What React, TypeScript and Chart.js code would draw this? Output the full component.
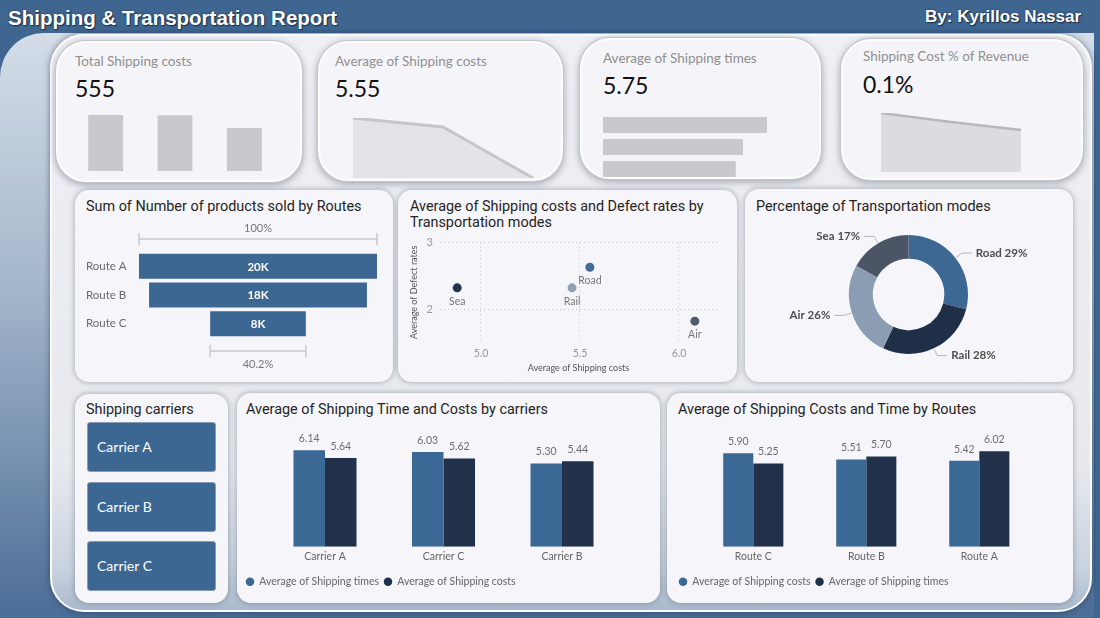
import React, { useEffect, useRef } from "react";
import { Chart, registerables } from "chart.js";

Chart.register(...registerables);

const UI_FONT = "Lato, 'Open Sans', sans-serif";
const TITLE_FONT = "Roboto, 'Noto Sans', sans-serif";
const HEAD_FONT = "'Liberation Sans', Arial, sans-serif";
const TITLE_SIZE = 14.4;

Chart.defaults.font.family = UI_FONT;
Chart.defaults.color = "#666";

// ---- KPI sparklines ----
const kpiCarriers = ["Carrier A", "Carrier B", "Carrier C"];
const kpiTotalCosts = [201, 200, 154];
const kpiAvgCosts = [5.64, 5.61, 5.44];
const kpiAvgTimes = [6.15, 5.25, 4.98];
const kpiCostShare = [0.118, 0.1, 0.084];

// ---- Products sold by route (funnel) ----
const funnelRoutes = ["Route A", "Route B", "Route C"];
const productsSold = [20100, 18400, 8080];

// ---- Shipping cost vs defect rate per transportation mode ----
const scatterModes = ["Sea", "Rail", "Road", "Air"];
const scatterCosts = [4.88, 5.46, 5.55, 6.08];
const scatterDefects = [2.32, 2.32, 2.63, 1.82];
const scatterColors = ["#1f3450", "#8fa1b6", "#436d97", "#505c6c"];

// ---- Transportation mode share ----
const shareModes = ["Road", "Rail", "Air", "Sea"];
const shareValues = [29, 28, 26, 17];
const shareColors = ["#3d6894", "#1f2f47", "#8b9db2", "#4c5566"];

// ---- Carriers ----
const slicerCarriers = ["Carrier A", "Carrier B", "Carrier C"];
const carrierLabels = ["Carrier A", "Carrier C", "Carrier B"];
const carrierTimes = [6.14, 6.03, 5.3];
const carrierCosts = [5.64, 5.62, 5.44];

// ---- Routes ----
const routeLabels = ["Route C", "Route B", "Route A"];
const routeCosts = [5.9, 5.51, 5.42];
const routeTimes = [5.25, 5.7, 6.02];

const BLUE = "#3b6894";
const NAVY = "#22314a";

const quiet = { legend: { display: false }, tooltip: { enabled: false } };

function ChartCanvas({ x, y, w, h, config }: { x: number; y: number; w: number; h: number; config: () => any }) {
  const ref = useRef<HTMLCanvasElement>(null);
  useEffect(() => {
    const chart = new Chart(ref.current as HTMLCanvasElement, config());
    return () => chart.destroy();
  }, []);
  return (
    <canvas
      ref={ref}
      width={w}
      height={h}
      style={{ position: "absolute", left: x, top: y, width: w, height: h }}
    />
  );
}

function Txt({ x, y, size, color, weight = 400, family = UI_FONT, align = "left", shadow, children }: any) {
  const lh = Math.round(size * 1.3);
  const style: React.CSSProperties = {
    position: "absolute",
    top: y - lh / 2,
    lineHeight: `${lh}px`,
    fontSize: size,
    color,
    fontWeight: weight,
    fontFamily: family,
    whiteSpace: "nowrap",
    textShadow: shadow,
  };
  if (align === "right") style.right = 1100 - x;
  else style.left = x;
  return <div style={style}>{children}</div>;
}

function Card({ x, y, w, h, kpi = false }: { x: number; y: number; w: number; h: number; kpi?: boolean }) {
  const style: React.CSSProperties = kpi
    ? {
        position: "absolute",
        left: x,
        top: y,
        width: w,
        height: h,
        boxSizing: "border-box",
        borderRadius: 30,
        background: "#f5f5f9",
        border: "2px solid #fdfdff",
        boxShadow: "0 0 0 1px #c4c4cc, 0 2px 7px 1px rgba(60,60,80,0.4)",
      }
    : {
        position: "absolute",
        left: x,
        top: y,
        width: w,
        height: h,
        boxSizing: "border-box",
        borderRadius: 14,
        background: "#f6f6fa",
        boxShadow: "0 0 5px 1px rgba(70,75,95,0.35)",
      };
  return <div style={style} />;
}

// ---------- chart configs ----------

const kpiBarsConfig = () => ({
  type: "bar",
  data: {
    labels: kpiCarriers,
    datasets: [{ data: kpiTotalCosts, backgroundColor: "#c9c8cc", categoryPercentage: 0.504, barPercentage: 1 }],
  },
  options: {
    responsive: false,
    animation: false,
    plugins: quiet,
    scales: { x: { display: false }, y: { display: false, min: 0, max: Math.max(...kpiTotalCosts) } },
  },
});

const kpiAreaConfig = (values: number[], line: string, fillColor: string, width: number, fromZero: boolean) => () => ({
  type: "line",
  data: {
    labels: kpiCarriers,
    datasets: [
      {
        data: values,
        borderColor: line,
        borderWidth: width,
        backgroundColor: fillColor,
        fill: "start",
        pointRadius: 0,
        tension: 0,
      },
    ],
  },
  options: {
    responsive: false,
    animation: false,
    plugins: quiet,
    layout: { padding: { left: 1, right: 1, top: 2, bottom: 1 } },
    scales: {
      x: { display: false },
      y: { display: false, min: fromZero ? 0 : Math.min(...values), max: Math.max(...values) },
    },
  },
});

const kpiHBarsConfig = () => ({
  type: "bar",
  data: {
    labels: kpiCarriers,
    datasets: [{ data: kpiAvgTimes, backgroundColor: "#c9c8cc", categoryPercentage: 0.727, barPercentage: 1 }],
  },
  options: {
    indexAxis: "y",
    responsive: false,
    animation: false,
    plugins: quiet,
    scales: { x: { display: false, min: 0, max: Math.max(...kpiAvgTimes) }, y: { display: false } },
  },
});

const funnelPlugin = {
  id: "funnelMarks",
  afterDatasetsDraw(chart: any) {
    const { ctx, chartArea, scales } = chart;
    const meta = chart.getDatasetMeta(0);
    ctx.save();
    ctx.textAlign = "center";
    ctx.textBaseline = "middle";
    ctx.font = `bold 11.5px ${UI_FONT}`;
    ctx.fillStyle = "#ffffff";
    meta.data.forEach((bar: any, i: number) => {
      ctx.fillText(`${Math.round(productsSold[i] / 1000)}K`, (bar.x + bar.base) / 2, bar.y + 0.5);
    });
    const first = productsSold[0];
    const last = productsSold[productsSold.length - 1];
    const bracket = (half: number, y: number) => {
      const x1 = scales.x.getPixelForValue(-half);
      const x2 = scales.x.getPixelForValue(half);
      ctx.strokeStyle = "#c9c9cc";
      ctx.lineWidth = 1.5;
      ctx.beginPath();
      ctx.moveTo(x1, y);
      ctx.lineTo(x2, y);
      ctx.moveTo(x1, y - 6);
      ctx.lineTo(x1, y + 6);
      ctx.moveTo(x2, y - 6);
      ctx.lineTo(x2, y + 6);
      ctx.stroke();
    };
    bracket(first / 2, chartArea.top - 13);
    bracket(last / 2, chartArea.bottom + 13);
    const cx = scales.x.getPixelForValue(0);
    ctx.font = `11px ${UI_FONT}`;
    ctx.fillStyle = "#777";
    ctx.fillText("100%", cx, chartArea.top - 24);
    ctx.fillText(`${((last / first) * 100).toFixed(1)}%`, cx, chartArea.bottom + 26);
    ctx.restore();
  },
};

const funnelConfig = () => ({
  type: "bar",
  data: {
    labels: funnelRoutes,
    datasets: [
      {
        data: productsSold.map((v) => [-v / 2, v / 2]),
        backgroundColor: "#3d6793",
        categoryPercentage: 0.872,
        barPercentage: 1,
      },
    ],
  },
  options: {
    indexAxis: "y",
    responsive: false,
    animation: false,
    plugins: quiet,
    layout: { padding: { top: 34, bottom: 34, right: 8, left: 0 } },
    scales: {
      x: { display: false, min: -Math.max(...productsSold) / 2, max: Math.max(...productsSold) / 2 },
      y: {
        grid: { display: false, drawTicks: false },
        border: { display: false },
        ticks: { color: "#6a6a6a", font: { size: 11.5 }, crossAlign: "far", padding: 0 },
        afterFit: (s: any) => {
          s.width = 53;
        },
      },
    },
  },
  plugins: [funnelPlugin],
});

const scatterNamesPlugin = {
  id: "scatterNames",
  afterDatasetsDraw(chart: any) {
    const { ctx } = chart;
    ctx.save();
    ctx.font = `10.5px ${UI_FONT}`;
    ctx.fillStyle = "#777";
    ctx.textAlign = "center";
    ctx.textBaseline = "middle";
    chart.getDatasetMeta(0).data.forEach((pt: any, i: number) => {
      ctx.fillText(scatterModes[i], pt.x, pt.y + 13.5);
    });
    ctx.restore();
  },
};

const scatterConfig = () => ({
  type: "scatter",
  data: {
    datasets: [
      {
        data: scatterModes.map((_, i) => ({ x: scatterCosts[i], y: scatterDefects[i] })),
        pointBackgroundColor: scatterColors,
        pointBorderWidth: 0,
        pointRadius: 4.5,
      },
    ],
  },
  options: {
    responsive: false,
    animation: false,
    plugins: quiet,
    layout: { padding: { top: 6, right: 8 } },
    scales: {
      x: {
        min: 4.793,
        max: 6.192,
        ticks: {
          stepSize: 0.5,
          includeBounds: false,
          callback: (v: any) => Number(v).toFixed(1),
          color: "#999",
          font: { size: 10.5 },
          padding: 5,
        },
        grid: { color: "#c4c4c8", drawTicks: false },
        border: { display: false, dash: [1, 3] },
        title: {
          display: true,
          text: "Average of Shipping costs",
          color: "#555",
          font: { size: 9 },
          padding: { top: 0, bottom: 2 },
        },
        afterFit: (s: any) => {
          s.height = 33;
        },
      },
      y: {
        min: 1.507,
        max: 3,
        ticks: { stepSize: 1, includeBounds: false, color: "#999", font: { size: 11 }, padding: 7 },
        grid: { color: "#c4c4c8", drawTicks: false },
        border: { display: false, dash: [1, 3] },
        title: {
          display: true,
          text: "Average of Defect rates",
          color: "#555",
          font: { size: 9 },
          padding: { top: 4, bottom: 0 },
        },
        afterFit: (s: any) => {
          s.width = 35;
        },
      },
    },
  },
  plugins: [scatterNamesPlugin],
});

const donutLabelsPlugin = {
  id: "donutLabels",
  afterDatasetsDraw(chart: any) {
    const { ctx } = chart;
    const total = shareValues.reduce((a, b) => a + b, 0);
    ctx.save();
    ctx.font = `bold 11.5px ${UI_FONT}`;
    ctx.textBaseline = "middle";
    chart.getDatasetMeta(0).data.forEach((arc: any, i: number) => {
      const { x, y, startAngle, endAngle, outerRadius } = arc.getProps(
        ["x", "y", "startAngle", "endAngle", "outerRadius"],
        true
      );
      const mid = (startAngle + endAngle) / 2;
      const c = Math.cos(mid);
      const s = Math.sin(mid);
      const px = x + c * (outerRadius + 1);
      const py = y + s * (outerRadius + 1);
      const ex = x + c * (outerRadius + 8);
      const ey = y + s * (outerRadius + 8);
      const right = c >= 0;
      const hx = ex + (right ? 10 : -10);
      ctx.strokeStyle = "#b4b4b8";
      ctx.lineWidth = 1;
      ctx.beginPath();
      ctx.moveTo(px, py);
      ctx.lineTo(ex, ey);
      ctx.lineTo(hx, ey);
      ctx.stroke();
      ctx.fillStyle = "#4e4e4e";
      ctx.textAlign = right ? "left" : "right";
      ctx.fillText(`${shareModes[i]} ${Math.round((shareValues[i] / total) * 100)}%`, hx + (right ? 4 : -4), ey);
    });
    ctx.restore();
  },
};

const donutConfig = () => ({
  type: "doughnut",
  data: { labels: shareModes, datasets: [{ data: shareValues, backgroundColor: shareColors, borderWidth: 0 }] },
  options: {
    responsive: false,
    animation: false,
    cutout: "60%",
    plugins: quiet,
    layout: { padding: { left: 94, right: 94, top: 9, bottom: 20 } },
  },
  plugins: [donutLabelsPlugin],
});

const barValuesPlugin = {
  id: "barValues",
  afterDatasetsDraw(chart: any) {
    const { ctx } = chart;
    ctx.save();
    ctx.font = `10.5px ${UI_FONT}`;
    ctx.fillStyle = "#6e6e6e";
    ctx.textAlign = "center";
    ctx.textBaseline = "middle";
    chart.data.datasets.forEach((ds: any, di: number) => {
      chart.getDatasetMeta(di).data.forEach((bar: any, i: number) => {
        ctx.fillText(Number(ds.data[i]).toFixed(2), bar.x, bar.y - 11.5);
      });
    });
    ctx.restore();
  },
};

const groupedBarsConfig = (
  labels: string[],
  series: { label: string; data: number[]; color: string }[],
  axisWidth: number,
  padRight: number
) => () => ({
  type: "bar",
  data: {
    labels,
    datasets: series.map((s) => ({
      label: s.label,
      data: s.data,
      backgroundColor: s.color,
      borderWidth: 0,
      categoryPercentage: 0.532,
      barPercentage: 1,
    })),
  },
  options: {
    responsive: false,
    animation: false,
    layout: { padding: { right: padRight } },
    plugins: {
      tooltip: { enabled: false },
      legend: {
        display: true,
        position: "bottom",
        align: "start",
        labels: {
          usePointStyle: true,
          pointStyle: "circle",
          boxWidth: 8,
          boxHeight: 6,
          padding: 5,
          color: "#666",
          font: { size: 10.5 },
        },
      },
    },
    scales: {
      x: {
        grid: { display: false, drawTicks: false },
        border: { display: false },
        ticks: { color: "#666", font: { size: 10.5 }, padding: 4 },
        afterFit: (s: any) => {
          s.height = 24.8;
        },
      },
      y: {
        min: 0,
        max: 8,
        grid: { display: false, drawTicks: false },
        border: { display: false },
        ticks: { display: false },
        afterFit: (s: any) => {
          s.width = axisWidth;
        },
      },
    },
  },
  plugins: [barValuesPlugin],
});

const carriersConfig = groupedBarsConfig(
  carrierLabels,
  [
    { label: "Average of Shipping times", data: carrierTimes, color: BLUE },
    { label: "Average of Shipping costs", data: carrierCosts, color: NAVY },
  ],
  24.75,
  33.75
);

const routesConfig = groupedBarsConfig(
  routeLabels,
  [
    { label: "Average of Shipping costs", data: routeCosts, color: BLUE },
    { label: "Average of Shipping times", data: routeTimes, color: NAVY },
  ],
  22.8,
  32.2
);

export default function App() {
  const headShadow = "0 0 2px #1b304d, 1px 1px 1px #1b304d";
  return (
    <div
      style={{
        position: "fixed",
        left: 0,
        top: 0,
        width: 1100,
        height: 618,
        overflow: "hidden",
        background: "#3e6691",
        fontFamily: UI_FONT,
      }}
    >
      <Txt x={8} y={17} size={20.5} color="#fff" weight={700} family={HEAD_FONT} shadow={headShadow}>
        Shipping &amp; Transportation Report
      </Txt>
      <Txt x={1081} y={17} size={17} color="#fff" weight={700} family={HEAD_FONT} align="right" shadow={headShadow}>
        By: Kyrillos Nassar
      </Txt>

      {/* backdrop panels */}
      <div
        style={{
          position: "absolute",
          left: 0,
          top: 33,
          width: 1094,
          height: 585,
          borderTopLeftRadius: 44,
          background: "linear-gradient(180deg, #d4dde8 0%, #a2b5ca 45%, #4b6d96 100%)",
        }}
      />
      <div
        style={{
          position: "absolute",
          left: 50,
          top: 34,
          width: 1042,
          height: 578,
          boxSizing: "border-box",
          borderRadius: 34,
          background: "linear-gradient(180deg, #eef0f4 0%, #e7e9ee 75%, #c8d2de 93%, #a9b9cc 100%)",
          border: "2px solid #fbfbfd",
          boxShadow: "0 0 6px rgba(20,30,50,0.5)",
        }}
      />

      {/* KPI cards */}
      <Card x={56} y={41} w={246} h={141} kpi />
      <Card x={318} y={41} w={245} h={140} kpi />
      <Card x={580} y={38} w={241} h={141} kpi />
      <Card x={841} y={39} w={242} h={141} kpi />

      <Txt x={75} y={61} size={13.5} color="#8f8f8f">Total Shipping costs</Txt>
      <Txt x={75} y={88} size={23} color="#111">555</Txt>
      <Txt x={335} y={61} size={13.5} color="#8f8f8f">Average of Shipping costs</Txt>
      <Txt x={335} y={88} size={23} color="#111">5.55</Txt>
      <Txt x={603} y={58} size={13.5} color="#8f8f8f">Average of Shipping times</Txt>
      <Txt x={603} y={85} size={23} color="#111">5.75</Txt>
      <Txt x={863} y={56} size={13.5} color="#8f8f8f">Shipping Cost % of Revenue</Txt>
      <Txt x={863} y={84} size={23} color="#111">0.1%</Txt>

      <ChartCanvas x={71} y={115} w={208} h={56} config={kpiBarsConfig} />
      <ChartCanvas x={352} y={116} w={182} h={63} config={kpiAreaConfig(kpiAvgCosts, "#c6c6ca", "#e4e4e8", 3, false)} />
      <ChartCanvas x={603} y={114} w={164} h={66} config={kpiHBarsConfig} />
      <ChartCanvas x={880} y={111} w={142} h={62} config={kpiAreaConfig(kpiCostShare, "#b8b8bc", "#dcdce0", 2.5, true)} />

      {/* second row */}
      <Card x={75} y={190} w={318} h={192} />
      <Card x={398} y={190} w={339} h={192} />
      <Card x={745} y={189} w={328} h={193} />

      <Txt x={86} y={206} size={TITLE_SIZE} color="#252423" family={TITLE_FONT}>Sum of Number of products sold by Routes</Txt>
      <Txt x={410} y={206} size={TITLE_SIZE} color="#252423" family={TITLE_FONT}>Average of Shipping costs and Defect rates by</Txt>
      <Txt x={410} y={222} size={TITLE_SIZE} color="#252423" family={TITLE_FONT}>Transportation modes</Txt>
      <Txt x={756} y={206} size={TITLE_SIZE} color="#252423" family={TITLE_FONT}>Percentage of Transportation modes</Txt>

      <ChartCanvas x={86} y={218} w={299} h={154} config={funnelConfig} />
      <ChartCanvas x={405} y={229} w={320} h={146} config={scatterConfig} />
      <ChartCanvas x={755} y={226} w={307} h={148} config={donutConfig} />

      {/* third row */}
      <Card x={75} y={394} w={153} h={209} />
      <Card x={237} y={393} w={423} h={210} />
      <Card x={667} y={393} w={406} h={210} />

      <Txt x={86} y={409} size={TITLE_SIZE} color="#252423" family={TITLE_FONT}>Shipping carriers</Txt>
      <Txt x={246} y={409} size={TITLE_SIZE} color="#252423" family={TITLE_FONT}>Average of Shipping Time and Costs by carriers</Txt>
      <Txt x={678} y={409} size={TITLE_SIZE} color="#252423" family={TITLE_FONT}>Average of Shipping Costs and Time by Routes</Txt>

      {slicerCarriers.map((name, i) => (
        <div
          key={name}
          style={{
            position: "absolute",
            left: 87,
            top: 422 + i * 59.5,
            width: 129,
            height: 50,
            boxSizing: "border-box",
            background: "#3d6793",
            border: "1px solid #8a9ab0",
            borderRadius: 3,
            color: "#fff",
            fontFamily: UI_FONT,
            fontSize: 14,
            lineHeight: "48px",
            paddingLeft: 9,
          }}
        >
          {name}
        </div>
      ))}

      <ChartCanvas x={241} y={421} w={414} h={176} config={carriersConfig} />
      <ChartCanvas x={674} y={420} w={394} h={177} config={routesConfig} />
    </div>
  );
}
